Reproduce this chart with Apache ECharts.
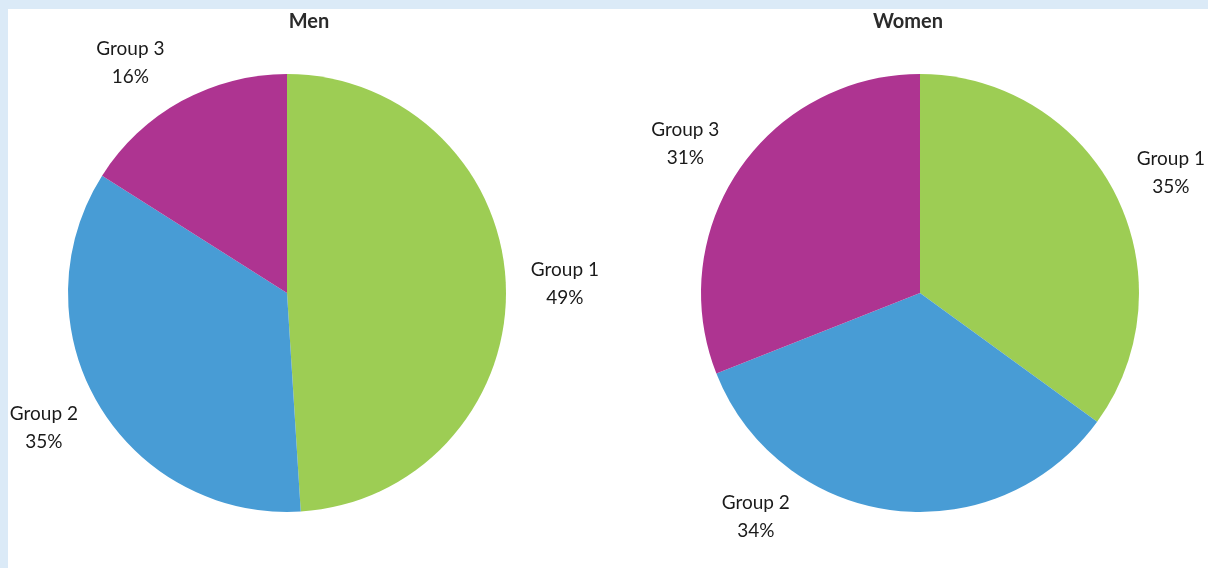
<!DOCTYPE html>
<html>
<head>
<meta charset="utf-8">
<script src="https://cdn.jsdelivr.net/npm/echarts@6/dist/echarts.min.js"></script>
<style>
  html, body { margin: 0; padding: 0; width: 1208px; height: 568px; background: #dbeaf7; overflow: hidden; }
  #panel { position: absolute; left: 8px; top: 9px; right: 0; bottom: 0; background: #ffffff; }
  #chart { position: absolute; left: 0; top: 0; width: 1208px; height: 568px; }
</style>
</head>
<body>
<div id="panel"></div>
<div id="chart"></div>
<script>
// Share of each group, in percent
const groups = ['Group 1', 'Group 2', 'Group 3'];
const menShares = [49, 35, 16];
const womenShares = [35, 34, 31];
const panelTitles = ['Men', 'Women'];

const colors = ['#9dcd54', '#489cd5', '#ae3491'];
const FONT = 'Lato, "Source Sans Pro", "Noto Sans", sans-serif';

const pies = [
  { name: panelTitles[0], values: menShares, center: [287, 293], titleX: 309 },
  { name: panelTitles[1], values: womenShares, center: [920, 293], titleX: 908 }
];
const RADIUS = 219;
const LABEL_DIST = 278;
// per-label angle nudges (degrees) where a label sits off its slice midline
const labelNudge = { '0-1': 1.6, '0-2': -5.5, '1-0': 1.5, '1-1': 29, '1-2': -1.8 };

function labelPos(seriesIndex, dataIndex) {
  const p = pies[seriesIndex];
  const total = p.values.reduce((a, b) => a + b, 0);
  let before = 0;
  for (let i = 0; i < dataIndex; i++) before += p.values[i];
  let mid = (before + p.values[dataIndex] / 2) / total * 360;
  mid += labelNudge[seriesIndex + '-' + dataIndex] || 0;
  const rad = mid * Math.PI / 180;
  return [p.center[0] + LABEL_DIST * Math.sin(rad), p.center[1] - LABEL_DIST * Math.cos(rad)];
}

const chart = echarts.init(document.getElementById('chart'), null, { renderer: 'canvas' });

chart.setOption({
  animation: false,
  backgroundColor: 'transparent',
  color: colors,
  title: pies.map(p => ({
    text: p.name,
    left: p.titleX,
    top: 12,
    textAlign: 'center',
    padding: 0,
    textStyle: { fontFamily: FONT, fontSize: 20, fontWeight: 'bold', color: '#2b2b2b' }
  })),
  series: pies.map(p => ({
    type: 'pie',
    name: p.name,
    center: p.center,
    radius: RADIUS,
    startAngle: 90,
    clockwise: true,
    avoidLabelOverlap: false,
    itemStyle: { borderWidth: 0 },
    emphasis: { disabled: true },
    label: {
      show: true,
      position: 'outside',
      formatter: '{b}\n{c}%',
      fontFamily: FONT,
      fontSize: 19,
      lineHeight: 28,
      color: '#1a1a1a'
    },
    labelLine: { show: false },
    labelLayout: function (params) {
      const xy = labelPos(params.seriesIndex, params.dataIndex);
      return { x: xy[0], y: xy[1], align: 'center', verticalAlign: 'middle' };
    },
    data: groups.map((g, i) => ({ name: g, value: p.values[i] }))
  }))
});
</script>
</body>
</html>
